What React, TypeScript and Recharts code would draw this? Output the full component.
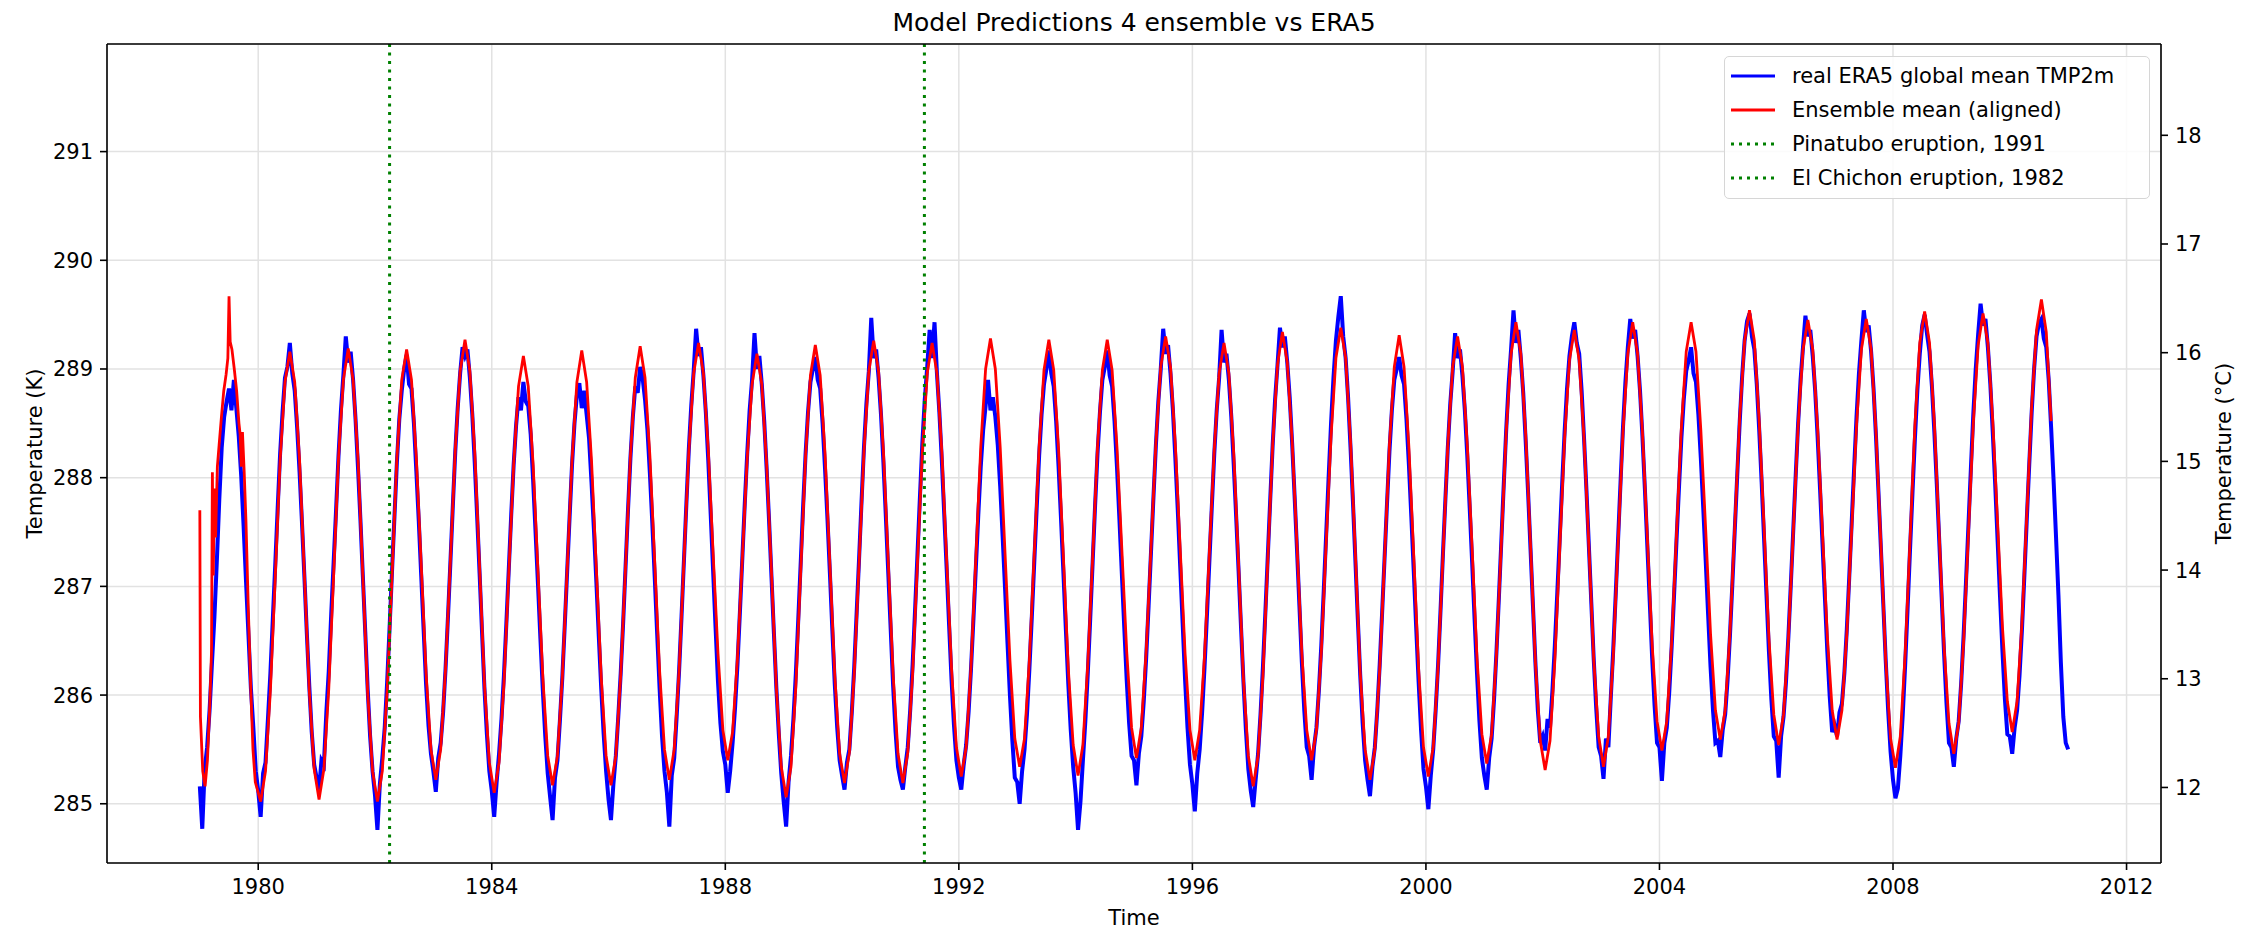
import { LineChart, Line, XAxis, YAxis, CartesianGrid, ReferenceLine, Legend, Label } from 'recharts'

const FONT = '"DejaVu Sans", sans-serif'

// ERA5 global mean 2m temperature (K), one row per year from 1979, 24 samples per year
const ERA5_FIRST_YEAR = 1979
const ERA5_K: number[][] = [
  [285.16, 284.77, 285.32, 285.52, 285.86, 286.30, 286.72, 287.24, 287.80, 288.28, 288.56, 288.70, 288.82, 288.62, 288.90, 288.64, 288.38, 288.02, 287.55, 287.04, 286.55, 286.06, 285.70, 285.30],
  [285.12, 284.88, 285.28, 285.38, 285.78, 286.20, 286.70, 287.20, 287.72, 288.22, 288.60, 288.92, 289.02, 289.24, 288.96, 288.80, 288.46, 288.05, 287.58, 287.08, 286.56, 286.08, 285.66, 285.36],
  [285.24, 285.13, 285.40, 285.36, 285.84, 286.22, 286.74, 287.22, 287.70, 288.20, 288.62, 288.94, 289.30, 289.06, 289.16, 288.90, 288.54, 288.10, 287.62, 287.10, 286.58, 286.05, 285.62, 285.30],
  [285.08, 284.76, 285.18, 285.42, 285.70, 286.12, 286.62, 287.14, 287.64, 288.14, 288.54, 288.80, 289.00, 289.13, 288.86, 288.82, 288.50, 288.06, 287.60, 287.10, 286.60, 286.10, 285.72, 285.46],
  [285.30, 285.11, 285.42, 285.56, 285.84, 286.24, 286.72, 287.22, 287.74, 288.24, 288.64, 288.96, 289.20, 289.12, 289.18, 288.92, 288.58, 288.14, 287.64, 287.12, 286.58, 286.06, 285.64, 285.30],
  [285.12, 284.88, 285.20, 285.46, 285.78, 286.18, 286.66, 287.16, 287.66, 288.12, 288.48, 288.74, 288.62, 288.88, 288.70, 288.66, 288.40, 287.98, 287.50, 287.02, 286.52, 286.04, 285.62, 285.28],
  [285.06, 284.85, 285.24, 285.40, 285.76, 286.16, 286.64, 287.14, 287.64, 288.12, 288.50, 288.76, 288.87, 288.64, 288.80, 288.58, 288.36, 287.96, 287.52, 287.04, 286.54, 286.06, 285.64, 285.30],
  [285.04, 284.85, 285.18, 285.44, 285.80, 286.20, 286.66, 287.18, 287.70, 288.18, 288.56, 288.84, 288.78, 289.02, 288.92, 288.72, 288.44, 288.04, 287.58, 287.08, 286.56, 286.06, 285.62, 285.30],
  [285.10, 284.79, 285.26, 285.42, 285.80, 286.22, 286.72, 287.24, 287.76, 288.26, 288.66, 288.98, 289.37, 289.12, 289.20, 288.94, 288.60, 288.16, 287.66, 287.14, 286.62, 286.12, 285.74, 285.48],
  [285.36, 285.10, 285.30, 285.56, 285.88, 286.28, 286.76, 287.26, 287.76, 288.22, 288.62, 288.90, 289.33, 289.00, 289.12, 288.86, 288.52, 288.08, 287.60, 287.08, 286.56, 286.06, 285.64, 285.28],
  [285.02, 284.79, 285.20, 285.44, 285.78, 286.20, 286.70, 287.22, 287.74, 288.22, 288.60, 288.88, 289.00, 289.11, 288.90, 288.82, 288.50, 288.08, 287.62, 287.12, 286.60, 286.10, 285.70, 285.40],
  [285.26, 285.13, 285.38, 285.50, 285.84, 286.26, 286.76, 287.26, 287.78, 288.28, 288.68, 288.98, 289.47, 289.10, 289.18, 288.92, 288.58, 288.14, 287.64, 287.12, 286.60, 286.08, 285.66, 285.34],
  [285.22, 285.13, 285.34, 285.52, 285.86, 286.28, 286.78, 287.30, 287.82, 288.32, 288.72, 289.02, 289.36, 289.10, 289.43, 288.96, 288.60, 288.16, 287.66, 287.16, 286.64, 286.14, 285.72, 285.40],
  [285.24, 285.13, 285.36, 285.54, 285.84, 286.24, 286.70, 287.18, 287.66, 288.10, 288.44, 288.66, 288.90, 288.62, 288.74, 288.56, 288.30, 287.92, 287.46, 286.98, 286.48, 286.00, 285.58, 285.24],
  [285.20, 285.00, 285.30, 285.50, 285.82, 286.24, 286.72, 287.22, 287.72, 288.20, 288.58, 288.86, 289.00, 289.17, 288.96, 288.84, 288.52, 288.10, 287.62, 287.12, 286.60, 286.10, 285.68, 285.34],
  [285.10, 284.76, 285.02, 285.40, 285.76, 286.20, 286.70, 287.22, 287.74, 288.22, 288.60, 288.90, 289.02, 289.17, 288.94, 288.84, 288.52, 288.10, 287.62, 287.12, 286.62, 286.14, 285.74, 285.44],
  [285.40, 285.17, 285.46, 285.62, 285.94, 286.34, 286.82, 287.32, 287.82, 288.30, 288.70, 289.00, 289.37, 289.14, 289.22, 288.96, 288.62, 288.18, 287.70, 287.18, 286.66, 286.14, 285.70, 285.36],
  [285.18, 284.93, 285.28, 285.50, 285.84, 286.26, 286.74, 287.24, 287.74, 288.22, 288.62, 288.92, 289.36, 289.06, 289.14, 288.90, 288.56, 288.12, 287.64, 287.14, 286.62, 286.12, 285.68, 285.32],
  [285.12, 284.97, 285.22, 285.46, 285.82, 286.26, 286.76, 287.28, 287.80, 288.30, 288.72, 289.04, 289.38, 289.20, 289.30, 289.06, 288.74, 288.32, 287.84, 287.34, 286.82, 286.30, 285.86, 285.52],
  [285.44, 285.22, 285.52, 285.70, 286.04, 286.46, 286.96, 287.48, 288.00, 288.50, 288.92, 289.26, 289.48, 289.67, 289.30, 289.10, 288.74, 288.28, 287.78, 287.24, 286.70, 286.18, 285.74, 285.40],
  [285.22, 285.07, 285.34, 285.52, 285.86, 286.28, 286.76, 287.26, 287.76, 288.24, 288.62, 288.90, 289.00, 289.11, 288.94, 288.86, 288.54, 288.12, 287.64, 287.14, 286.62, 286.12, 285.68, 285.32],
  [285.16, 284.95, 285.26, 285.50, 285.86, 286.28, 286.78, 287.30, 287.80, 288.28, 288.68, 288.98, 289.33, 289.10, 289.18, 288.94, 288.62, 288.20, 287.72, 287.22, 286.70, 286.20, 285.76, 285.42],
  [285.26, 285.13, 285.42, 285.60, 285.96, 286.40, 286.90, 287.42, 287.94, 288.44, 288.86, 289.18, 289.54, 289.24, 289.36, 289.10, 288.78, 288.34, 287.86, 287.34, 286.82, 286.30, 285.86, 285.56],
  [285.62, 285.49, 285.78, 285.70, 286.04, 286.46, 286.94, 287.44, 287.94, 288.42, 288.82, 289.12, 289.30, 289.43, 289.24, 289.14, 288.80, 288.36, 287.88, 287.36, 286.84, 286.32, 285.88, 285.52],
  [285.44, 285.23, 285.60, 285.52, 285.98, 286.42, 286.92, 287.44, 287.96, 288.46, 288.88, 289.20, 289.46, 289.28, 289.36, 289.12, 288.80, 288.38, 287.90, 287.38, 286.86, 286.34, 285.90, 285.56],
  [285.52, 285.21, 285.56, 285.70, 286.02, 286.44, 286.92, 287.42, 287.90, 288.36, 288.72, 288.98, 289.08, 289.20, 288.96, 288.88, 288.58, 288.18, 287.72, 287.24, 286.74, 286.26, 285.86, 285.56],
  [285.58, 285.43, 285.68, 285.82, 286.14, 286.56, 287.04, 287.54, 288.04, 288.52, 288.94, 289.26, 289.44, 289.51, 289.30, 289.18, 288.86, 288.44, 287.96, 287.44, 286.92, 286.40, 285.96, 285.62],
  [285.58, 285.24, 285.62, 285.80, 286.12, 286.54, 287.02, 287.52, 288.02, 288.50, 288.90, 289.20, 289.49, 289.30, 289.36, 289.12, 288.80, 288.38, 287.90, 287.40, 286.90, 286.40, 285.98, 285.66],
  [285.72, 285.62, 285.84, 285.92, 286.20, 286.60, 287.08, 287.58, 288.08, 288.56, 288.96, 289.26, 289.54, 289.34, 289.40, 289.16, 288.82, 288.38, 287.88, 287.36, 286.84, 286.32, 285.86, 285.48],
  [285.22, 285.05, 285.14, 285.44, 285.82, 286.28, 286.80, 287.34, 287.86, 288.36, 288.80, 289.14, 289.40, 289.50, 289.32, 289.16, 288.84, 288.42, 287.94, 287.42, 286.90, 286.38, 285.92, 285.56],
  [285.52, 285.34, 285.60, 285.76, 286.10, 286.54, 287.04, 287.56, 288.08, 288.58, 289.00, 289.32, 289.60, 289.40, 289.46, 289.20, 288.86, 288.42, 287.94, 287.42, 286.90, 286.40, 285.96, 285.64],
  [285.62, 285.46, 285.70, 285.86, 286.18, 286.60, 287.10, 287.62, 288.12, 288.60, 289.00, 289.30, 289.42, 289.46, 289.28, 289.20, 288.90, 288.46, 287.98, 287.46, 286.92, 286.30, 285.80, 285.56, 285.50],
]

// ensemble mean, first year is noisy (spin-up), given as explicit times
const ENS_SPINUP_T = [1979.0, 1979.01, 1979.05, 1979.09, 1979.13, 1979.17, 1979.2, 1979.215, 1979.23, 1979.25, 1979.27, 1979.3, 1979.33, 1979.37, 1979.41, 1979.45, 1979.48, 1979.5, 1979.52, 1979.55, 1979.59, 1979.63, 1979.67, 1979.69, 1979.71, 1979.73, 1979.76, 1979.79, 1979.83, 1979.87, 1979.91, 1979.95]
const ENS_SPINUP_K = [287.70, 285.80, 285.30, 285.16, 285.40, 285.90, 286.40, 288.05, 287.10, 287.90, 287.45, 288.10, 288.30, 288.56, 288.80, 288.95, 289.10, 289.67, 289.25, 289.18, 289.00, 288.80, 288.50, 288.40, 288.10, 288.42, 288.05, 287.60, 286.80, 286.10, 285.50, 285.20]

// ensemble mean (aligned), monthly from 1980
const ENS_FIRST_YEAR = 1980
const ENS_K: number[][] = [
  [285.02, 285.30, 286.04, 287.08, 288.16, 288.88, 289.16, 288.88, 288.16, 287.10, 286.04, 285.32],
  [285.04, 285.32, 286.06, 287.10, 288.18, 288.90, 289.19, 288.90, 288.18, 287.10, 286.02, 285.30],
  [285.02, 285.30, 286.04, 287.10, 288.18, 288.90, 289.18, 288.90, 288.18, 287.20, 286.20, 285.50],
  [285.22, 285.50, 286.24, 287.24, 288.26, 288.98, 289.27, 288.98, 288.24, 287.18, 286.10, 285.38],
  [285.10, 285.38, 286.10, 287.12, 288.12, 288.84, 289.12, 288.84, 288.12, 287.14, 286.16, 285.44],
  [285.17, 285.44, 286.16, 287.16, 288.16, 288.88, 289.17, 288.88, 288.16, 287.16, 286.16, 285.44],
  [285.17, 285.44, 286.18, 287.18, 288.20, 288.92, 289.21, 288.92, 288.20, 287.22, 286.22, 285.50],
  [285.22, 285.50, 286.22, 287.24, 288.24, 288.96, 289.24, 288.96, 288.26, 287.30, 286.38, 285.68],
  [285.40, 285.66, 286.34, 287.26, 288.18, 288.86, 289.14, 288.86, 288.12, 287.12, 286.06, 285.34],
  [285.06, 285.34, 286.08, 287.14, 288.20, 288.94, 289.22, 288.94, 288.22, 287.20, 286.18, 285.46],
  [285.19, 285.47, 286.20, 287.22, 288.24, 288.98, 289.26, 288.98, 288.24, 287.22, 286.18, 285.46],
  [285.19, 285.47, 286.20, 287.22, 288.24, 288.96, 289.24, 288.96, 288.24, 287.24, 286.24, 285.52],
  [285.25, 285.52, 286.26, 287.26, 288.28, 289.00, 289.28, 289.00, 288.28, 287.30, 286.32, 285.60],
  [285.34, 285.60, 286.32, 287.30, 288.28, 288.99, 289.27, 288.99, 288.26, 287.26, 286.24, 285.54],
  [285.26, 285.54, 286.28, 287.26, 288.28, 288.99, 289.27, 288.99, 288.28, 287.34, 286.40, 285.70],
  [285.42, 285.70, 286.40, 287.36, 288.32, 289.02, 289.30, 289.02, 288.30, 287.34, 286.38, 285.68],
  [285.40, 285.68, 286.36, 287.32, 288.26, 288.96, 289.24, 288.96, 288.22, 287.20, 286.14, 285.44],
  [285.16, 285.44, 286.18, 287.24, 288.30, 289.04, 289.34, 289.06, 288.34, 287.38, 286.38, 285.68],
  [285.40, 285.68, 286.40, 287.40, 288.38, 289.10, 289.38, 289.10, 288.34, 287.30, 286.20, 285.50],
  [285.22, 285.50, 286.24, 287.26, 288.30, 289.02, 289.31, 289.02, 288.28, 287.28, 286.24, 285.52],
  [285.25, 285.52, 286.26, 287.28, 288.30, 289.02, 289.30, 289.02, 288.30, 287.34, 286.34, 285.64],
  [285.37, 285.64, 286.38, 287.40, 288.42, 289.14, 289.43, 289.14, 288.40, 287.38, 286.30, 285.58],
  [285.31, 285.58, 286.32, 287.34, 288.36, 289.08, 289.36, 289.08, 288.36, 287.36, 286.32, 285.62],
  [285.34, 285.62, 286.36, 287.40, 288.42, 289.14, 289.43, 289.14, 288.42, 287.46, 286.46, 285.76],
  [285.49, 285.76, 286.48, 287.48, 288.46, 289.16, 289.43, 289.16, 288.44, 287.52, 286.56, 285.86],
  [285.59, 285.86, 286.58, 287.58, 288.56, 289.26, 289.54, 289.26, 288.52, 287.54, 286.52, 285.82],
  [285.54, 285.82, 286.52, 287.50, 288.48, 289.18, 289.45, 289.18, 288.46, 287.50, 286.54, 285.86],
  [285.59, 285.86, 286.56, 287.52, 288.48, 289.18, 289.46, 289.18, 288.42, 287.40, 286.32, 285.60],
  [285.33, 285.62, 286.38, 287.42, 288.48, 289.24, 289.53, 289.24, 288.50, 287.48, 286.44, 285.74],
  [285.46, 285.74, 286.48, 287.48, 288.50, 289.22, 289.51, 289.24, 288.52, 287.58, 286.62, 285.94],
  [285.66, 285.94, 286.66, 287.66, 288.66, 289.36, 289.64, 289.34, 288.52],
]

const PINATUBO = 1991.41
const EL_CHICHON = 1982.25

const YEAR_TICKS = [1980, 1984, 1988, 1992, 1996, 2000, 2004, 2008, 2012]
const KELVIN_TICKS = [285, 286, 287, 288, 289, 290, 291]
const CELSIUS_TICKS = [12, 13, 14, 15, 16, 17, 18]

const X_DOMAIN = [1977.41, 2012.59]
const K_DOMAIN = [284.455, 291.99]
const C_DOMAIN = [K_DOMAIN[0] - 273.15, K_DOMAIN[1] - 273.15]

const BLUE = '#0000ff'
const RED = '#ff0000'
const GREEN = '#008000'
const GRID_COLOR = '#e2e2e2'

const LEGEND_ITEMS = [
  { label: 'real ERA5 global mean TMP2m', color: BLUE, dotted: false },
  { label: 'Ensemble mean (aligned)', color: RED, dotted: false },
  { label: 'Pinatubo eruption, 1991', color: GREEN, dotted: true },
  { label: 'El Chichon eruption, 1982', color: GREEN, dotted: true },
]

type Pt = { t: number; era5?: number; ens?: number }

const points: Pt[] = []
ERA5_K.forEach((row, y) => row.forEach((v, i) => points.push({ t: ERA5_FIRST_YEAR + y + i / 24, era5: v })))
ENS_SPINUP_T.forEach((t, i) => points.push({ t, ens: ENS_SPINUP_K[i] }))
ENS_K.forEach((row, y) => row.forEach((v, i) => points.push({ t: ENS_FIRST_YEAR + y + (i + 0.5) / 12, ens: v })))
points.sort((a, b) => a.t - b.t)

const tickStyle = { fontSize: 21, fill: '#000', fontFamily: FONT }
const spine = { stroke: '#000', strokeWidth: 1.6 }

function LegendBox() {
  return (
    <div
      style={{
        boxSizing: 'border-box',
        width: 426,
        height: 143,
        paddingTop: 2,
        border: '1.5px solid #d6d6d6',
        borderRadius: 5,
        background: 'rgba(255,255,255,0.85)',
        fontFamily: FONT,
        fontSize: 21,
        color: '#000',
      }}
    >
      {LEGEND_ITEMS.map((it) => (
        <div key={it.label} style={{ display: 'flex', alignItems: 'center', height: 34 }}>
          <svg width={44} height={34} style={{ marginLeft: 6, flex: 'none' }}>
            <line
              x1={0}
              x2={44}
              y1={17}
              y2={17}
              stroke={it.color}
              strokeWidth={3}
              strokeDasharray={it.dotted ? '3 5' : undefined}
            />
          </svg>
          <span style={{ marginLeft: 17, whiteSpace: 'nowrap' }}>{it.label}</span>
        </div>
      ))}
    </div>
  )
}

export default function App() {
  return (
    <div style={{ position: 'relative', width: 2255, height: 931, background: '#fff' }}>
      <style>{'body { margin: 0; }'}</style>
      <LineChart width={2255} height={931} data={points} margin={{ top: 14, right: 0, bottom: 0, left: 0 }}>
        <CartesianGrid yAxisId="K" stroke={GRID_COLOR} strokeWidth={1.5} />
        <XAxis
          dataKey="t"
          type="number"
          domain={X_DOMAIN}
          ticks={YEAR_TICKS}
          interval={0}
          allowDataOverflow
          height={68}
          tickSize={7}
          tickMargin={9}
          tick={tickStyle}
          axisLine={spine}
          tickLine={spine}
        >
          <Label
            content={({ viewBox }: any) => (
              <text
                x={viewBox.x + viewBox.width / 2}
                y={viewBox.y + 62}
                textAnchor="middle"
                fontSize={21}
                fontFamily={FONT}
                fill="#000"
              >
                Time
              </text>
            )}
          />
        </XAxis>
        <XAxis
          xAxisId="top"
          orientation="top"
          dataKey="t"
          type="number"
          domain={X_DOMAIN}
          allowDataOverflow
          height={30}
          tick={false}
          tickLine={false}
          axisLine={spine}
        >
          <Label
            content={({ viewBox }: any) => (
              <text
                x={viewBox.x + viewBox.width / 2}
                y={viewBox.y + 17}
                textAnchor="middle"
                fontSize={25}
                fontFamily={FONT}
                fill="#000"
              >
                Model Predictions 4 ensemble vs ERA5
              </text>
            )}
          />
        </XAxis>
        <YAxis
          yAxisId="K"
          type="number"
          domain={K_DOMAIN}
          ticks={KELVIN_TICKS}
          interval={0}
          allowDataOverflow
          width={107}
          tickSize={7}
          tickMargin={7}
          tick={tickStyle}
          axisLine={spine}
          tickLine={spine}
        >
          <Label
            content={({ viewBox }: any) => {
              const x = viewBox.x + 35
              const y = viewBox.y + viewBox.height / 2
              return (
                <text
                  x={x}
                  y={y}
                  transform={`rotate(-90, ${x}, ${y})`}
                  textAnchor="middle"
                  dominantBaseline="central"
                  fontSize={21}
                  fontFamily={FONT}
                  fill="#000"
                >
                  Temperature (K)
                </text>
              )
            }}
          />
        </YAxis>
        <YAxis
          yAxisId="C"
          orientation="right"
          type="number"
          domain={C_DOMAIN}
          ticks={CELSIUS_TICKS}
          interval={0}
          allowDataOverflow
          width={94}
          tickSize={7}
          tickMargin={7}
          tick={tickStyle}
          axisLine={spine}
          tickLine={spine}
        >
          <Label
            content={({ viewBox }: any) => {
              const x = viewBox.x + 63
              const y = viewBox.y + viewBox.height / 2
              return (
                <text
                  x={x}
                  y={y}
                  transform={`rotate(-90, ${x}, ${y})`}
                  textAnchor="middle"
                  dominantBaseline="central"
                  fontSize={21}
                  fontFamily={FONT}
                  fill="#000"
                >
                  Temperature (°C)
                </text>
              )
            }}
          />
        </YAxis>
        <Line
          yAxisId="K"
          type="linear"
          dataKey="era5"
          stroke={BLUE}
          strokeWidth={4}
          dot={false}
          activeDot={false}
          connectNulls
          isAnimationActive={false}
        />
        <Line
          yAxisId="K"
          type="linear"
          dataKey="ens"
          stroke={RED}
          strokeWidth={2.8}
          dot={false}
          activeDot={false}
          connectNulls
          isAnimationActive={false}
        />
        <ReferenceLine yAxisId="K" x={PINATUBO} stroke={GREEN} strokeWidth={3} strokeDasharray="3 5.5" />
        <ReferenceLine yAxisId="K" x={EL_CHICHON} stroke={GREEN} strokeWidth={3} strokeDasharray="3 5.5" />
        <Legend
          layout="vertical"
          align="center"
          verticalAlign="middle"
          wrapperStyle={{ left: 1724, top: 56, width: 426, height: 143 }}
          content={() => <LegendBox />}
        />
      </LineChart>
    </div>
  )
}
